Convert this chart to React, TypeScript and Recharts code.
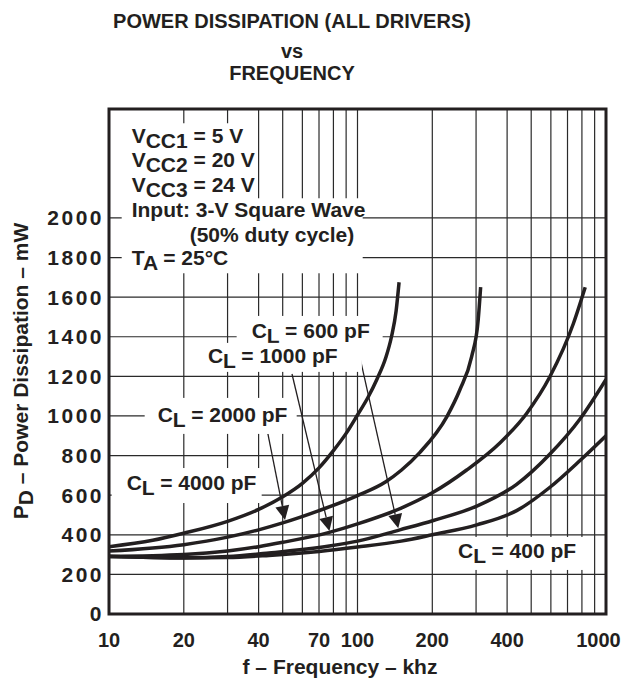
import React from 'react';
import {
  LineChart, Line, XAxis, YAxis, CartesianGrid,
  ReferenceArea, ReferenceDot, ReferenceLine,
} from 'recharts';

const INK = '#231f20';
const FONT = '"Liberation Sans", Arial, Helvetica, sans-serif';

// f (kHz) and PD (mW)
const freq4000 = [10, 15, 20, 30, 40, 50, 60, 70, 80, 90, 100, 110, 120, 130, 137, 143, 147];
const pd4000 = [340, 372, 408, 468, 528, 592, 660, 738, 825, 912, 1005, 1092, 1188, 1295, 1400, 1530, 1675];

const freq2000 = [10, 20, 30, 40, 50, 70, 100, 130, 150, 178, 229, 258, 288, 306, 313];
const pd2000 = [318, 350, 388, 425, 460, 522, 598, 668, 726, 815, 997, 1131, 1300, 1485, 1650];

const freq1000 = [10, 20, 30, 40, 50, 77, 100, 150, 200, 275, 375, 480, 595, 740, 825];
const pd1000 = [290, 300, 318, 340, 362, 412, 455, 535, 612, 727, 865, 1014, 1199, 1468, 1650];

const freq600 = [10, 20, 30, 44, 77, 100, 148, 202, 302, 437, 595, 786, 1000];
const pd600 = [290, 284, 290, 308, 343, 368, 425, 472, 545, 655, 808, 985, 1185];

const freq400 = [10, 20, 30, 44, 70, 100, 150, 200, 302, 437, 595, 786, 1000];
const pd400 = [292, 283, 285, 296, 316, 338, 368, 400, 450, 522, 640, 775, 900];

const xTicks = [10, 20, 40, 70, 100, 200, 400, 1000];
const xGrid = [20, 30, 40, 50, 60, 70, 80, 90, 100, 200, 300, 400, 500, 600, 700, 800, 900];
const yTicks = [0, 200, 400, 600, 800, 1000, 1200, 1400, 1600, 1800, 2000];
const yGrid = [200, 400, 600, 800, 1000, 1200, 1400, 1600, 1800, 2000];
const Y_TOP = 2550;

const pts = (f: number[], p: number[]) => f.map((x, i) => ({ f: x, p: p[i] }));

const curves = [
  { name: '4000', data: pts(freq4000, pd4000) },
  { name: '2000', data: pts(freq2000, pd2000) },
  { name: '1000', data: pts(freq1000, pd1000) },
  { name: '600', data: pts(freq600, pd600) },
  { name: '400', data: pts(freq400, pd400) },
];

// label anchors in data coords, white knock-out box in px relative to the text start
const capLabels = [
  { value: '600', f: 37.5, p: 1394, box: [-15, -22, 146, 32] },
  { value: '1000', f: 25.0, p: 1268, box: [-12, -20, 166, 29] },
  { value: '2000', f: 15.7, p: 970, box: [-13, -24, 152, 36] },
  { value: '4000', f: 11.78, p: 626, box: [-15, -22, 150, 35] },
  { value: '400', f: 253.7, p: 283, box: [-10, -21, 136, 33] },
];

const arrows = [
  { from: [43.6, 909], to: [51.1, 475] },
  { from: [54.5, 1212], to: [77.1, 419] },
  { from: [100.5, 1338], to: [145.9, 433] },
];

const txt = { fill: INK, fontFamily: FONT, fontWeight: 700 } as const;

function CapLabel({ cx, cy, value, box }: any) {
  const [dx, dy, w, h] = box;
  return (
    <g>
      <rect x={cx + dx} y={cy + dy} width={w} height={h} fill="#fff" />
      <text x={cx} y={cy} fontSize={21} {...txt}>
        C<tspan dy={5}>L</tspan><tspan dy={-5}>{` = ${value} pF`}</tspan>
      </text>
    </g>
  );
}

function Conditions({ cx, cy }: any) {
  const sub = (main: string, s: string, rest: string, y: number) => (
    <text x={cx} y={cy + y} fontSize={21} {...txt}>
      {main}<tspan dy={5}>{s}</tspan><tspan dy={-5}>{rest}</tspan>
    </text>
  );
  return (
    <g>
      <rect x={cx - 10} y={cy - 20} width={134} height={77} fill="#fff" />
      <rect x={cx - 10} y={cy + 55} width={241} height={75} fill="#fff" />
      {sub('V', 'CC1', ' = 5 V', 0)}
      {sub('V', 'CC2', ' = 20 V', 24)}
      {sub('V', 'CC3', ' = 24 V', 48.4)}
      <text x={cx} y={cy + 74} fontSize={21} {...txt}>Input: 3-V Square Wave</text>
      <text x={cx + 58} y={cy + 98.4} fontSize={21} {...txt}>(50% duty cycle)</text>
      {sub('T', 'A', ' = 25°C', 121.7)}
    </g>
  );
}

function Arrow({ x1, y1, x2, y2 }: any) {
  const dx = x2 - x1;
  const dy = y2 - y1;
  const len = Math.hypot(dx, dy) || 1;
  const ux = dx / len;
  const uy = dy / len;
  const hl = 14;
  const hw = 7;
  const bx = x2 - ux * hl;
  const by = y2 - uy * hl;
  return (
    <g>
      <line x1={x1} y1={y1} x2={bx} y2={by} stroke={INK} strokeWidth={1.3} />
      <polygon
        points={`${x2},${y2} ${bx - uy * hw},${by + ux * hw} ${bx + uy * hw},${by - ux * hw}`}
        fill={INK}
      />
    </g>
  );
}

// last label is pulled in so it stays on the page, as in the original
function FreqTick({ x, y, payload }: any) {
  const shift = payload.value === 1000 ? -7.5 : 0;
  return (
    <text x={x + shift} y={y} dy="0.71em" textAnchor="middle" fontSize={20} {...txt}>
      {payload.value}
    </text>
  );
}

export default function App() {
  return (
    <div style={{ position: 'relative', width: 623, height: 672 }}>
      <LineChart width={623} height={664} margin={{ top: 101, right: 25, bottom: 28, left: 21 }}>
        <CartesianGrid
          stroke="#2a2a2a"
          strokeWidth={1.2}
          verticalValues={xGrid}
          horizontalValues={yGrid}
        />
        <XAxis
          dataKey="f"
          type="number"
          scale="log"
          domain={[10, 1000]}
          allowDataOverflow
          ticks={xTicks}
          interval={0}
          height={30}
          axisLine={false}
          tickLine={false}
          tickSize={0}
          tickMargin={18.5}
          tick={<FreqTick />}
        />
        <YAxis
          type="number"
          domain={[0, Y_TOP]}
          allowDataOverflow
          ticks={yTicks}
          interval={0}
          width={80}
          axisLine={false}
          tickLine={false}
          tickSize={0}
          tickMargin={5}
          tick={{ ...txt, fontSize: 21, letterSpacing: 2.5 }}
        />
        <ReferenceDot x={12.34} y={2377} r={0} shape={(p: any) => <Conditions cx={p.cx} cy={p.cy} />} />
        {capLabels.map((l) => (
          <ReferenceDot
            key={l.value}
            x={l.f}
            y={l.p}
            r={0}
            shape={(p: any) => <CapLabel cx={p.cx} cy={p.cy} value={l.value} box={l.box} />}
          />
        ))}
        {curves.map((c) => (
          <Line
            key={c.name}
            data={c.data}
            dataKey="p"
            type="monotone"
            stroke={INK}
            strokeWidth={3.5}
            dot={false}
            isAnimationActive={false}
          />
        ))}
        {arrows.map((a, i) => (
          <ReferenceLine
            key={i}
            segment={[{ x: a.from[0], y: a.from[1] }, { x: a.to[0], y: a.to[1] }]}
            shape={(p: any) => <Arrow {...p} />}
          />
        ))}
        <ReferenceArea x1={10} x2={1000} y1={0} y2={Y_TOP} fill="none" fillOpacity={0} stroke={INK} strokeWidth={3} />
      </LineChart>
      <svg
        width={623}
        height={672}
        style={{ position: 'absolute', left: 0, top: 0, overflow: 'visible', pointerEvents: 'none' }}
      >
        <text x={284} y={20.3} textAnchor="middle" fontSize={20} {...txt}>POWER DISSIPATION (ALL DRIVERS)</text>
        <text x={284} y={49.5} textAnchor="middle" fontSize={20} {...txt}>vs</text>
        <text x={284} y={71.5} textAnchor="middle" fontSize={20} {...txt}>FREQUENCY</text>
        <text x={332} y={666} textAnchor="middle" fontSize={21} {...txt}>f – Frequency – khz</text>
        <text x={20} y={363} textAnchor="middle" fontSize={21} transform="rotate(-90 20 363)" {...txt}>
          P<tspan dy={5}>D</tspan><tspan dy={-5}> – Power Dissipation – mW</tspan>
        </text>
      </svg>
    </div>
  );
}
